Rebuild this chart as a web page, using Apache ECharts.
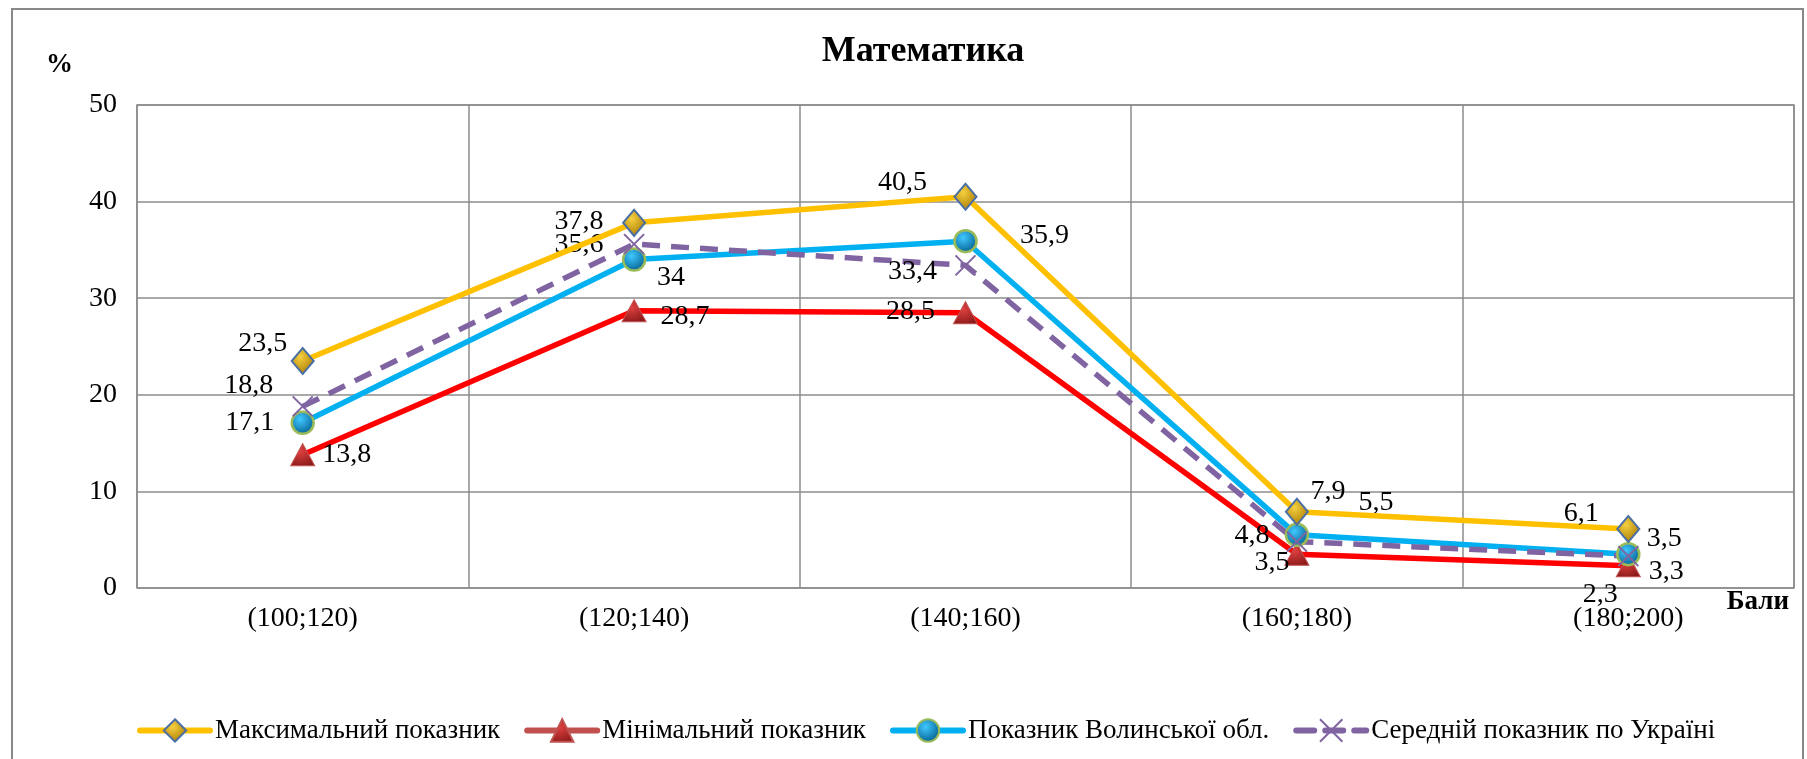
<!DOCTYPE html>
<html><head><meta charset="utf-8">
<script src="https://cdn.jsdelivr.net/npm/echarts@6/dist/echarts.min.js"></script>
<style>html,body{margin:0;padding:0;background:#fff}#c{width:1807px;height:759px}</style>
</head><body><div id="c"></div>
<script>
const categories = ['(100;120)', '(120;140)', '(140;160)', '(160;180)', '(180;200)'];
const seriesNames = ['Максимальний показник', 'Мінімальний показник', 'Показник Волинської обл.', 'Середній показник по Україні'];
const maxVals = [23.5, 37.8, 40.5, 7.9, 6.1];
const minVals = [13.8, 28.7, 28.5, 3.5, 2.3];
const volynVals = [17.1, 34, 35.9, 5.5, 3.5];
const avgVals = [18.8, 35.6, 33.4, 4.8, 3.3];
const titleText = 'Математика';
const yName = '%';
const xName = 'Бали';

// label offsets (style only)
const offsets = [
  [[-40,-17],[-55,-1],[-63,-14],[31,-20],[-47,-15]],
  [[44,0],[51,6],[-55,-1],[-25,8],[-28,29]],
  [[-53,0],[37,18],[79,-6],[79,-32],[36,-16]],
  [[-54,-21],[-55,1],[-53,6],[-45,-6],[38,16]]
];
const FONT = 'Liberation Serif';
function mk(vals, k) {
  return vals.map((v, i) => ({ value: v, label: { offset: offsets[k][i] } }));
}
const lbl = {
  show: true, position: 'inside', color: '#000', fontFamily: FONT, fontSize: 28,
  formatter: p => String(p.value).replace('.', ',')
};
function rad(c1, c2) {
  return { type: 'radial', x: 0.4, y: 0.35, r: 0.7, colorStops: [{ offset: 0, color: c1 }, { offset: 1, color: c2 }] };
}
const chart = echarts.init(document.getElementById('c'));
chart.setOption({
  animation: false,
  backgroundColor: '#fff',
  title: { text: titleText, left: 918, top: 29, textAlign: 'center',
    textStyle: { fontFamily: FONT, fontWeight: 'bold', fontSize: 36, color: '#000' } },
  graphic: [{ type: 'rect', shape: { x: 12, y: 9, width: 1791, height: 780 },
    style: { fill: 'none', stroke: '#888', lineWidth: 2 }, silent: true }],
  grid: { left: 137, right: 13, top: 105, bottom: 171, show: true, borderColor: '#8c8c8c', borderWidth: 1.5 },
  legend: {
    top: 712, left: 132, itemWidth: 70, itemHeight: 28, itemGap: 24,
    lineStyle: { width: 6, cap: 'round' },
    textStyle: { fontFamily: FONT, fontSize: 27, color: '#000' },
    data: [
      { name: seriesNames[0] },
      { name: seriesNames[1], lineStyle: { color: '#C0504D', width: 6, cap: 'round' } },
      { name: seriesNames[2] },
      { name: seriesNames[3] }
    ]
  },
  xAxis: {
    type: 'category', data: categories, boundaryGap: true,
    name: xName, nameLocation: 'end', nameGap: -5,
    nameTextStyle: { fontFamily: FONT, fontWeight: 'bold', fontSize: 27, color: '#000', align: 'right', verticalAlign: 'top', padding: [1, 0, 0, 0] },
    axisLine: { show: false }, axisTick: { show: false },
    axisLabel: { fontFamily: FONT, fontSize: 28, color: '#000', margin: 17 },
    splitLine: { show: true, lineStyle: { color: '#8c8c8c', width: 1.5 } }
  },
  yAxis: {
    type: 'value', min: 0, max: 50, interval: 10,
    name: yName, nameLocation: 'end', nameGap: 26,
    nameTextStyle: { fontFamily: FONT, fontWeight: 'bold', fontSize: 27, color: '#000', align: 'right', padding: [0, 64, 0, 0] },
    axisLine: { show: false }, axisTick: { show: false },
    axisLabel: { fontFamily: FONT, fontSize: 28, color: '#000', margin: 20 },
    splitLine: { show: true, lineStyle: { color: '#8c8c8c', width: 1.5 } }
  },
  series: [
    { name: seriesNames[0], type: 'line', data: mk(maxVals, 0), symbol: 'diamond', symbolSize: [22, 26],
      lineStyle: { color: '#FFC000', width: 5.5 },
      itemStyle: { color: rad('#f5d040', '#a87800'), borderColor: '#4a6fa5', borderWidth: 2 },
      label: lbl, z: 4 },
    { name: seriesNames[1], type: 'line', data: mk(minVals, 1), symbol: 'triangle', symbolSize: [24, 22],
      lineStyle: { color: '#FF0000', width: 5.5 },
      itemStyle: { color: rad('#e04040', '#8b1a1a'), borderColor: '#c0504d', borderWidth: 1 },
      label: lbl, z: 2 },
    { name: seriesNames[2], type: 'line', data: mk(volynVals, 2), symbol: 'circle', symbolSize: 22,
      lineStyle: { color: '#00B0F0', width: 5.5 },
      itemStyle: { color: rad('#40c8ff', '#005a8a'), borderColor: '#9bbb59', borderWidth: 2.5 },
      label: lbl, z: 3 },
    { name: seriesNames[3], type: 'line', data: mk(avgVals, 3), symbol: 'path://M0,0L10,10M10,0L0,10', symbolSize: 20,
      lineStyle: { color: '#8064A2', width: 5.5, type: [18, 11] },
      itemStyle: { color: 'rgba(0,0,0,0)', borderColor: '#8064A2', borderWidth: 2 },
      label: lbl, z: 3 }
  ]
});
</script></body></html>
